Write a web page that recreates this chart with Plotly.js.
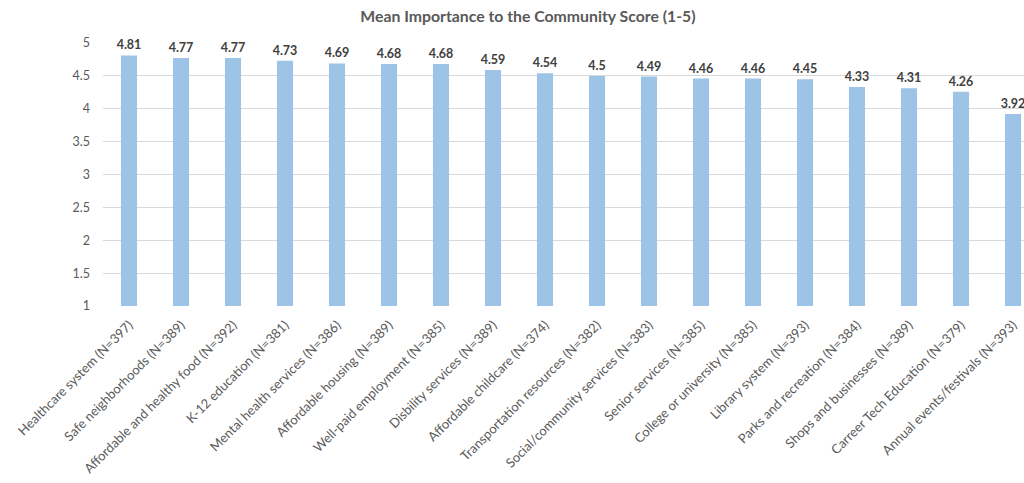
<!DOCTYPE html>
<html><head><meta charset="utf-8">
<script src="https://cdn.plot.ly/plotly-3.0.1.min.js"></script>
<style>html,body{margin:0;padding:0;overflow:hidden;background:#fff}#chart{width:1040px;height:483px}</style>
</head><body><div id="chart"></div>
<script>
const categories = ["Healthcare system (N=397)","Safe neighborhoods (N=389)","Affordable and healthy food (N=392)","K-12 education (N=381)","Mental health services (N=386)","Affordable housing (N=389)","Well-paid employment (N=385)","Disbility services (N=389)","Affordable childcare (N=374)","Transportation resources (N=382)","Social/community services (N=383)","Senior services (N=385)","College or university (N=385)","Library system (N=393)","Parks and recreation (N=384)","Shops and businesses (N=389)","Carreer Tech Education (N=379)","Annual events/festivals (N=393)"];
const scores = [4.81,4.77,4.77,4.73,4.69,4.68,4.68,4.59,4.54,4.5,4.49,4.46,4.46,4.45,4.33,4.31,4.26,3.92];
const yTicks = [1,1.5,2,2.5,3,3.5,4,4.5,5];

const trace = {
  type: 'bar', x: categories, y: scores,
  marker: {color: '#9DC3E6'},
  text: scores.map(String), textposition: 'outside', cliponaxis: false, constraintext: 'none',
  textfont: {family: 'Lato, sans-serif', size: 12.5, color: '#404040', weight: 'bold'},
  hoverinfo: 'none'
};
const layout = {
  width: 1040, height: 483,
  margin: {l: 103, r: 1, t: 43, b: 177},
  paper_bgcolor: '#fff', plot_bgcolor: '#fff',
  bargap: 0.69,
  showlegend: false,
  title: {text: 'Mean Importance to the Community Score (1-5)', x: 0.454, xref: 'paper', xanchor: 'center', y: 0.965, yanchor: 'middle',
    font: {family: 'Lato, sans-serif', size: 15.8, color: '#595959', weight: 'bold'}},
  xaxis: {tickangle: -45, ticklabelstandoff: 8, tickfont: {family: 'Lato, sans-serif', size: 13, color: '#595959'}, showline: false, ticks: '', automargin: false, fixedrange: true},
  yaxis: {range: [1, 5], tickvals: yTicks, ticktext: yTicks.map(String), showgrid: true, gridcolor: '#d9d9d9', gridwidth: 1,
    zeroline: false, showline: false, ticks: '', ticklabelstandoff: 12,
    tickfont: {family: 'Lato, sans-serif', size: 12.5, color: '#595959'}, automargin: false, fixedrange: true}
};
Plotly.newPlot('chart', [trace], layout, {displayModeBar: false, staticPlot: true});
</script></body></html>
